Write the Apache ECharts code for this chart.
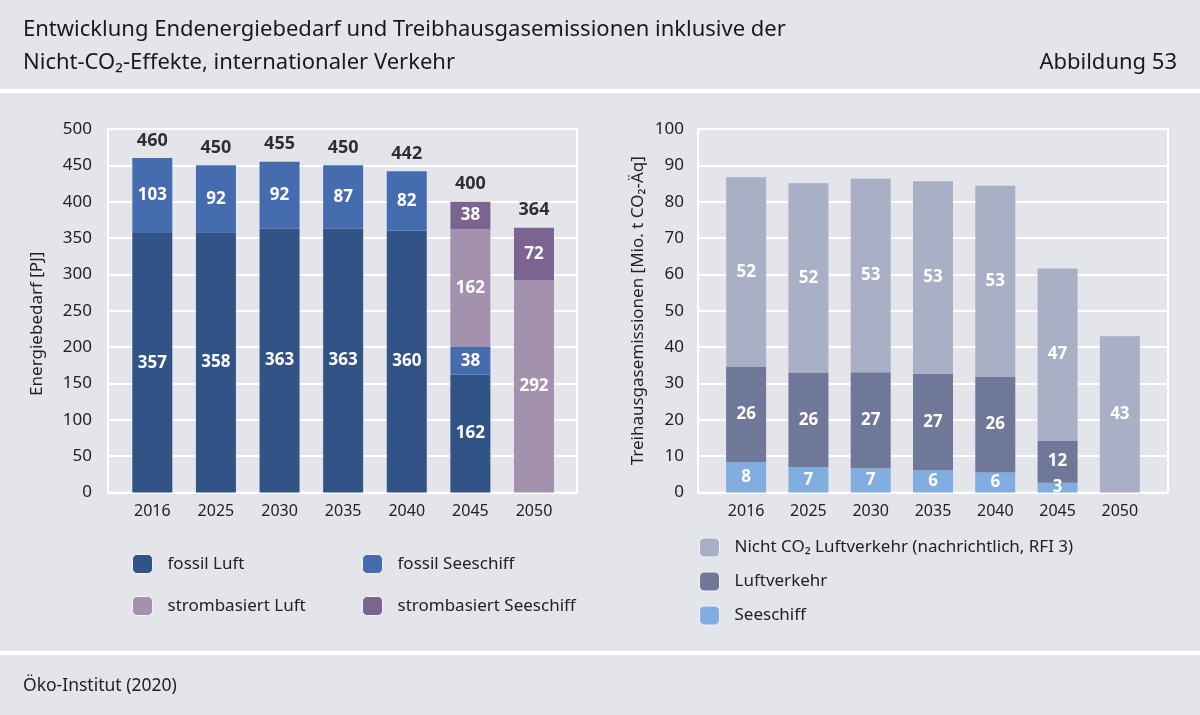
<!DOCTYPE html>
<html>
<head>
<meta charset="utf-8">
<script src="https://cdn.jsdelivr.net/npm/echarts@6/dist/echarts.min.js"></script>
<style>
html,body{margin:0;padding:0;background:#e4e5ea;}
#chart{width:1200px;height:715px;}
</style>
</head>
<body>
<div id="chart"></div>
<script>
// ---- data ----
const years = ['2016', '2025', '2030', '2035', '2040', '2045', '2050'];
// Energiebedarf [PJ]
const fossilLuft = [357, 358, 363, 363, 360, 162, 0];
const fossilSeeschiff = [103, 92, 92, 87, 82, 38, 0];
const strombasiertLuft = [0, 0, 0, 0, 0, 162, 292];
const strombasiertSeeschiff = [0, 0, 0, 0, 0, 38, 72];
// Treibhausgasemissionen [Mio. t CO2-Äq]
const seeschiff = [8.4, 7.0, 6.6, 6.2, 5.5, 2.7, 0];
const luftverkehr = [26.1, 26.0, 26.5, 26.5, 26.4, 11.6, 0];
const nichtCO2 = [52.2, 52.1, 53.2, 52.9, 52.5, 47.3, 43.0];

const leftTotals = years.map((_, i) => fossilLuft[i] + fossilSeeschiff[i] + strombasiertLuft[i] + strombasiertSeeschiff[i]);

const FONT = 'Noto Sans';
const inLabel = {
  show: true, position: 'inside', color: '#ffffff', fontWeight: 'bold', fontSize: 17, fontFamily: FONT,
  formatter: p => (p.value > 0 ? String(Math.round(p.value)) : '')
};

const chart = echarts.init(document.getElementById('chart'), null, {renderer: 'canvas'});

const frameGrid = {show: true, borderColor: '#ffffff', borderWidth: 2, backgroundColor: 'transparent'};
const legendText = {color: '#222', fontSize: 17, fontFamily: FONT, padding: [0, 0, 0, 10]};
const legendIcon = {borderColor: '#f4f4f6', borderWidth: 1};

const option = {
  backgroundColor: '#e4e5ea',
  animation: false,
  textStyle: {fontFamily: FONT},
  title: [
    {text: 'Entwicklung Endenergiebedarf und Treibhausgasemissionen inklusive der\nNicht-CO₂-Effekte, internationaler Verkehr',
     left: 23, top: 13, padding: 0,
     textStyle: {fontFamily: FONT, fontSize: 22, fontWeight: 'normal', color: '#1a1a1a', lineHeight: 33}},
    {text: 'Abbildung 53', right: 23, top: 46, padding: 0,
     textStyle: {fontFamily: FONT, fontSize: 22, fontWeight: 'normal', color: '#1a1a1a', lineHeight: 33}},
    {text: 'Öko-Institut (2020)', left: 23, top: 675, padding: 0,
     textStyle: {fontFamily: FONT, fontSize: 17.5, fontWeight: 'normal', color: '#222222', lineHeight: 22}}
  ],
  graphic: [
    {type: 'rect', shape: {x: 0, y: 89, width: 1200, height: 4}, style: {fill: '#ffffff'}},
    {type: 'rect', shape: {x: 0, y: 651, width: 1200, height: 4}, style: {fill: '#ffffff'}}
  ],
  grid: [
    Object.assign({left: 108, top: 129, width: 469, height: 363.5}, frameGrid),
    {left: 120.5, top: 129, width: 445.3, height: 363.5},
    Object.assign({left: 698, top: 129, width: 470, height: 363.5}, frameGrid),
    {left: 715, top: 129, width: 436, height: 363.5}
  ],
  xAxis: [
    {gridIndex: 0, type: 'value', min: 0, max: 1, show: false},
    {gridIndex: 1, type: 'category', data: years, axisLine: {show: false}, axisTick: {show: false},
     axisLabel: {color: '#222', fontSize: 16, margin: 11, fontFamily: FONT}},
    {gridIndex: 2, type: 'value', min: 0, max: 1, show: false},
    {gridIndex: 3, type: 'category', data: years, axisLine: {show: false}, axisTick: {show: false},
     axisLabel: {color: '#222', fontSize: 16, margin: 11, fontFamily: FONT}}
  ],
  yAxis: [
    {gridIndex: 0, type: 'value', min: 0, max: 500, interval: 50,
     axisLine: {show: false}, axisTick: {show: false},
     splitLine: {show: true, lineStyle: {color: '#ffffff', width: 2}},
     axisLabel: {color: '#222', fontSize: 17, margin: 16, fontFamily: FONT},
     name: 'Energiebedarf [PJ]', nameLocation: 'middle', nameGap: 62, nameRotate: 90,
     nameTextStyle: {color: '#222', fontSize: 17, fontFamily: FONT, padding: [0, 26, 0, 0]}},
    {gridIndex: 1, type: 'value', min: 0, max: 500, show: false, splitLine: {show: false}},
    {gridIndex: 2, type: 'value', min: 0, max: 100, interval: 10,
     axisLine: {show: false}, axisTick: {show: false},
     splitLine: {show: true, lineStyle: {color: '#ffffff', width: 2}},
     axisLabel: {color: '#222', fontSize: 17, margin: 14, fontFamily: FONT},
     name: 'Treihausgasemissionen [Mio. t CO₂-Äq]', nameLocation: 'middle', nameGap: 51, nameRotate: 90,
     nameTextStyle: {color: '#222', fontSize: 17, fontFamily: FONT}},
    {gridIndex: 3, type: 'value', min: 0, max: 100, show: false, splitLine: {show: false}}
  ],
  legend: [
    {orient: 'vertical', left: 132, top: 554, padding: 0, itemWidth: 20, itemHeight: 19, itemGap: 22,
     data: ['fossil Luft', 'strombasiert Luft'], selectedMode: false,
     itemStyle: legendIcon, textStyle: legendText},
    {orient: 'vertical', left: 362, top: 554, padding: 0, itemWidth: 20, itemHeight: 19, itemGap: 22,
     data: ['fossil Seeschiff', 'strombasiert Seeschiff'], selectedMode: false,
     itemStyle: legendIcon, textStyle: legendText},
    {orient: 'vertical', left: 699, top: 537.5, padding: 0, itemWidth: 20, itemHeight: 19, itemGap: 14,
     data: ['Nicht CO₂ Luftverkehr (nachrichtlich, RFI 3)', 'Luftverkehr', 'Seeschiff'], selectedMode: false,
     itemStyle: legendIcon, textStyle: legendText}
  ],
  series: [
    {name: 'fossil Luft', type: 'bar', stack: 'L', xAxisIndex: 1, yAxisIndex: 1, barWidth: 40,
     data: fossilLuft, itemStyle: {color: '#315386'}, label: inLabel},
    {name: 'fossil Seeschiff', type: 'bar', stack: 'L', xAxisIndex: 1, yAxisIndex: 1, barWidth: 40,
     data: fossilSeeschiff, itemStyle: {color: '#466cb0'}, label: inLabel},
    {name: 'strombasiert Luft', type: 'bar', stack: 'L', xAxisIndex: 1, yAxisIndex: 1, barWidth: 40,
     data: strombasiertLuft, itemStyle: {color: '#a491ae'}, label: inLabel},
    {name: 'strombasiert Seeschiff', type: 'bar', stack: 'L', xAxisIndex: 1, yAxisIndex: 1, barWidth: 40,
     data: strombasiertSeeschiff, itemStyle: {color: '#7b6590'}, label: inLabel},
    {name: 'Summe', type: 'scatter', xAxisIndex: 1, yAxisIndex: 1, data: leftTotals, symbolSize: 1,
     itemStyle: {color: 'rgba(0,0,0,0)'}, silent: true,
     label: {show: true, position: 'top', distance: 8, color: '#000', fontWeight: 'bold', fontSize: 18, fontFamily: FONT}},

    {name: 'Seeschiff', type: 'bar', stack: 'R', xAxisIndex: 3, yAxisIndex: 3, barWidth: 40,
     data: seeschiff, itemStyle: {color: '#82ade0'}, label: inLabel},
    {name: 'Luftverkehr', type: 'bar', stack: 'R', xAxisIndex: 3, yAxisIndex: 3, barWidth: 40,
     data: luftverkehr, itemStyle: {color: '#6f7899'}, label: inLabel},
    {name: 'Nicht CO₂ Luftverkehr (nachrichtlich, RFI 3)', type: 'bar', stack: 'R', xAxisIndex: 3, yAxisIndex: 3, barWidth: 40,
     data: nichtCO2, itemStyle: {color: '#a9afc4'}, label: inLabel}
  ]
};
chart.setOption(option);
</script>
</body>
</html>
